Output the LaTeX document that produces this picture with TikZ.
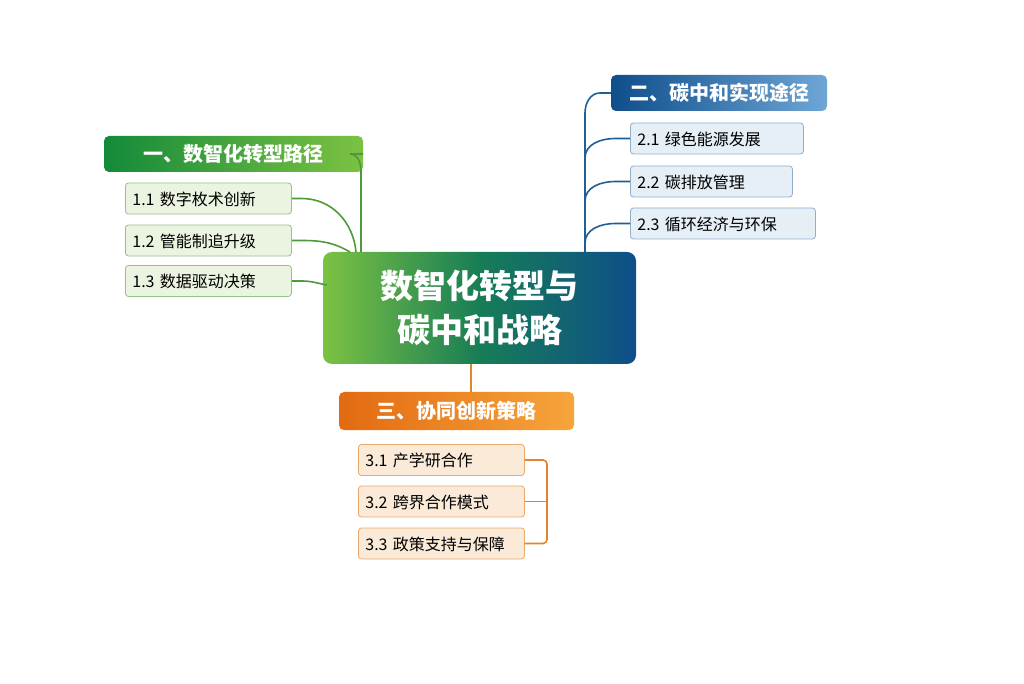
\documentclass[tikz,border=0pt]{standalone}
\usepackage{fontspec}
\setmainfont{Noto Sans CJK SC}
\usetikzlibrary{positioning}

\definecolor{gdark}{HTML}{138A3A}
\definecolor{glight}{HTML}{7CC242}
\definecolor{gfill}{HTML}{EAF4E0}
\definecolor{gline}{HTML}{4E9A3A}
\definecolor{bdark}{HTML}{0E4E8A}
\definecolor{blight}{HTML}{6FA6D6}
\definecolor{bfill}{HTML}{E6EEF6}
\definecolor{bline}{HTML}{1F5F96}
\definecolor{odark}{HTML}{E26A12}
\definecolor{olight}{HTML}{F6A53B}
\definecolor{ofill}{HTML}{FBEAD8}
\definecolor{oline}{HTML}{E0842E}

\tikzset{
  head/.style={rounded corners=5pt, text=white, font=\fontsize{20}{22}\selectfont\bfseries,
    minimum height=36pt, inner sep=0pt},
  leaf/.style={rounded corners=3pt, draw, line width=0.8pt, font=\fontsize{16}{18}\selectfont,
    minimum height=31pt, inner sep=0pt, anchor=west, align=left, text depth=0pt},
}

\begin{document}
\begin{tikzpicture}[x=1pt,y=1pt]
  \useasboundingbox (0,0) rectangle (1024,683);
  % central topic
  \node[rounded corners=9pt, left color=glight, right color=bdark, middle color=gdark!70!bline,
    minimum width=313pt, minimum height=112pt, text=white, align=center,
    font=\fontsize{33}{44}\selectfont\bfseries] (core) at (479.5,375) {数智化转型与\\碳中和战略};

  % branch one
  \node[head, left color=gdark, right color=glight, minimum width=259pt] (g) at (233.5,529) {一、数智化转型路径};
  \node[leaf, draw=gline!60, fill=gfill, minimum width=166pt, text width=152pt] (g1) at (125,484.5) {1.1 数字枚术创新};
  \node[leaf, draw=gline!60, fill=gfill, minimum width=166pt, text width=152pt] (g2) at (125,442.5) {1.2 管能制追升级};
  \node[leaf, draw=gline!60, fill=gfill, minimum width=166pt, text width=152pt] (g3) at (125,402) {1.3 数据驱动决策};
  \begin{scope}[gline, line width=1.6pt]
    \draw (g.east) -- (350,529) to[out=0,in=90] (361,512) -- (361,431);
    \draw (g1.east) -- ++(10,0) to[out=0,in=95] (356,431);
    \draw (g2.east) -- ++(10,0) to[out=0,in=150] (350,431);
    \draw (g3.east) -- ++(10,0) to[out=0,in=170] (327,398);
  \end{scope}

  % branch two
  \node[head, left color=bdark, right color=blight, minimum width=216pt] (b) at (719,590) {二、碳中和实现途径};
  \node[leaf, draw=bline!50, fill=bfill, minimum width=173pt, text width=159pt] (b1) at (630,544.5) {2.1 绿色能源发展};
  \node[leaf, draw=bline!50, fill=bfill, minimum width=162pt, text width=148pt] (b2) at (630,501.5) {2.2 碳排放管理};
  \node[leaf, draw=bline!50, fill=bfill, minimum width=185pt, text width=171pt] (b3) at (630,459.5) {2.3 循环经济与环保};
  \coordinate (bfoot) at (585,431);
  \begin{scope}[bline, line width=1.6pt]
    \draw (b.west) -- (600,590) to[out=180,in=90] (585,570) -- (bfoot);
    \draw (b1.west) -- ++(-15,0) to[out=180,in=90] (585,525);
    \draw (b2.west) -- ++(-15,0) to[out=180,in=90] (585,482);
    \draw (b3.west) -- ++(-15,0) to[out=180,in=90] (585,440);
  \end{scope}

  % branch three
  \node[head, left color=odark, right color=olight, minimum width=235pt, minimum height=38pt] (o) at (456.5,272) {三、协同创新策略};
  \node[leaf, draw=oline!70, fill=ofill, minimum width=166pt, text width=152pt] (o1) at (358,223) {3.1 产学研合作};
  \node[leaf, draw=oline!70, fill=ofill, minimum width=166pt, text width=152pt] (o2) at (358,181.5) {3.2 跨界合作模式};
  \node[leaf, draw=oline!70, fill=ofill, minimum width=166pt, text width=152pt] (o3) at (358,139.5) {3.3 政策支持与保障};
  \begin{scope}[oline, line width=1.6pt]
    \coordinate (ctop) at (471,319);
    \draw[line width=1.8pt] (ctop) -- (ctop |- o.north);
    \draw[rounded corners=4pt] (o1.east) -- (547,223) -- (547,139.5) -- (o3.east);
    \draw (o2.east) -- (547,181.5);
  \end{scope}
\end{tikzpicture}
\end{document}
